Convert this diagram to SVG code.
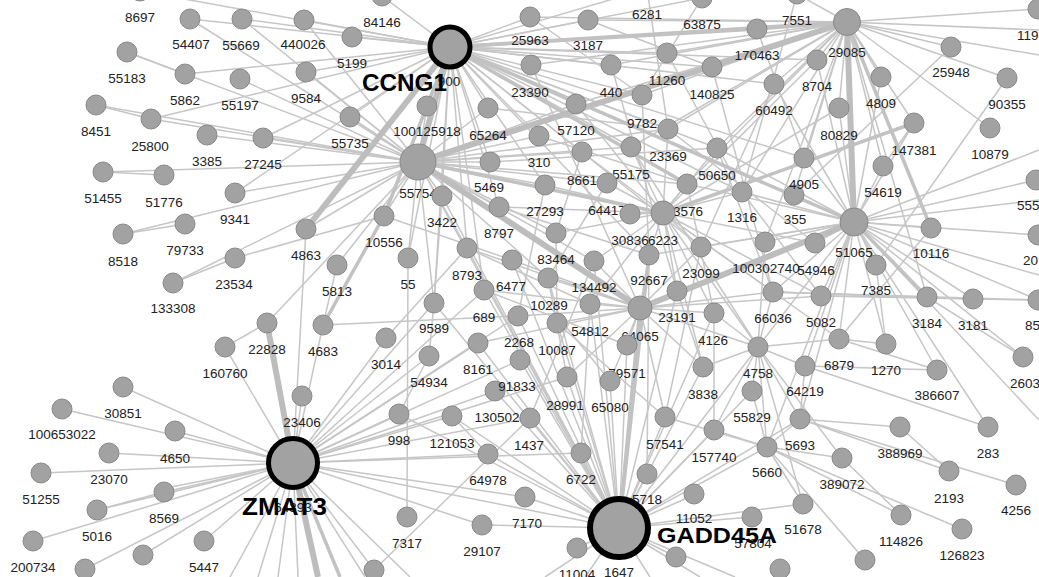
<svg xmlns="http://www.w3.org/2000/svg" width="1039" height="577" viewBox="0 0 1039 577">
<style>
text{font-family:"Liberation Sans",Arial,sans-serif;font-size:13.5px;text-anchor:middle;fill:#222}
.n{fill:#a2a2a2;stroke:#888;stroke-width:1}
.ring{fill:#a2a2a2;stroke:#000}
.hl{font-weight:bold;font-size:23px;text-anchor:start;fill:#000}
#edges-thin line{stroke:#c6c6c6;stroke-width:1.5}
#edges-med line{stroke:#c2c2c2;stroke-width:3.5}
#edges-thick line{stroke:#bdbdbd;stroke-width:6}
</style>
<rect width="1039" height="577" fill="#fff"/>
<g id="connectors">
<g id="edges-thin">
<line x1="418" y1="162" x2="190" y2="19"/><line x1="418" y1="162" x2="242" y2="19"/><line x1="418" y1="162" x2="304" y2="20"/><line x1="418" y1="162" x2="127" y2="52"/><line x1="418" y1="162" x2="240" y2="79"/><line x1="418" y1="162" x2="306" y2="72"/><line x1="418" y1="162" x2="96" y2="105"/><line x1="418" y1="162" x2="151" y2="119"/><line x1="418" y1="162" x2="207" y2="135"/><line x1="418" y1="162" x2="263" y2="138"/><line x1="418" y1="162" x2="103" y2="172"/><line x1="418" y1="162" x2="235" y2="193"/><line x1="418" y1="162" x2="123" y2="234"/><line x1="418" y1="162" x2="173" y2="283"/><line x1="418" y1="162" x2="350" y2="117"/><line x1="418" y1="162" x2="442" y2="196"/><line x1="418" y1="162" x2="499" y2="207"/><line x1="418" y1="162" x2="490" y2="162"/><line x1="418" y1="162" x2="488" y2="108"/><line x1="418" y1="162" x2="427" y2="106"/><line x1="418" y1="162" x2="539" y2="136"/><line x1="418" y1="162" x2="545" y2="185"/><line x1="418" y1="162" x2="582" y2="152"/><line x1="418" y1="162" x2="607" y2="183"/><line x1="418" y1="162" x2="631" y2="147"/><line x1="418" y1="162" x2="384" y2="216"/><line x1="418" y1="162" x2="408" y2="258"/><line x1="418" y1="162" x2="467" y2="248"/><line x1="418" y1="162" x2="434" y2="303"/><line x1="418" y1="162" x2="267" y2="323"/><line x1="418" y1="162" x2="306" y2="229"/><line x1="418" y1="162" x2="556" y2="233"/><line x1="418" y1="162" x2="594" y2="261"/><line x1="418" y1="162" x2="548" y2="278"/><line x1="418" y1="162" x2="668" y2="129"/><line x1="418" y1="162" x2="576" y2="104"/><line x1="418" y1="162" x2="687" y2="184"/><line x1="418" y1="162" x2="619" y2="528"/><line x1="418" y1="162" x2="337" y2="265"/>
<line x1="127" y1="52" x2="185" y2="74"/><line x1="96" y1="105" x2="151" y2="119"/><line x1="103" y1="172" x2="164" y2="175"/><line x1="123" y1="234" x2="185" y2="224"/><line x1="173" y1="283" x2="235" y2="258"/><line x1="225" y1="347" x2="267" y2="323"/><line x1="235" y1="258" x2="384" y2="216"/>
<line x1="450" y1="47" x2="140" y2="-9"/><line x1="450" y1="47" x2="382" y2="-4"/><line x1="450" y1="47" x2="352" y2="37"/><line x1="450" y1="47" x2="304" y2="20"/><line x1="450" y1="47" x2="306" y2="72"/><line x1="450" y1="47" x2="350" y2="117"/><line x1="450" y1="47" x2="190" y2="19"/><line x1="450" y1="47" x2="242" y2="19"/><line x1="450" y1="47" x2="263" y2="138"/><line x1="450" y1="47" x2="151" y2="119"/><line x1="450" y1="47" x2="235" y2="193"/><line x1="450" y1="47" x2="185" y2="74"/><line x1="450" y1="47" x2="530" y2="17"/><line x1="450" y1="47" x2="588" y2="20"/><line x1="450" y1="47" x2="611" y2="65"/><line x1="450" y1="47" x2="576" y2="104"/><line x1="450" y1="47" x2="667" y2="53"/><line x1="450" y1="47" x2="642" y2="95"/><line x1="450" y1="47" x2="488" y2="108"/><line x1="450" y1="47" x2="427" y2="106"/><line x1="450" y1="47" x2="490" y2="162"/><line x1="450" y1="47" x2="539" y2="136"/><line x1="450" y1="47" x2="668" y2="129"/><line x1="450" y1="47" x2="631" y2="147"/><line x1="450" y1="47" x2="647" y2="-11"/><line x1="450" y1="47" x2="702" y2="-2"/><line x1="450" y1="47" x2="442" y2="196"/><line x1="450" y1="47" x2="499" y2="207"/><line x1="450" y1="47" x2="467" y2="248"/><line x1="450" y1="47" x2="408" y2="258"/><line x1="450" y1="47" x2="434" y2="303"/><line x1="450" y1="47" x2="484" y2="290"/><line x1="450" y1="47" x2="545" y2="185"/><line x1="450" y1="47" x2="582" y2="152"/><line x1="450" y1="47" x2="717" y2="148"/><line x1="450" y1="47" x2="649" y2="255"/><line x1="450" y1="47" x2="701" y2="247"/><line x1="450" y1="47" x2="712" y2="67"/><line x1="450" y1="47" x2="774" y2="84"/><line x1="450" y1="47" x2="804" y2="158"/><line x1="450" y1="47" x2="742" y2="192"/><line x1="450" y1="47" x2="817" y2="60"/>
<line x1="293" y1="463" x2="123" y2="387"/><line x1="293" y1="463" x2="62" y2="409"/><line x1="293" y1="463" x2="175" y2="431"/><line x1="293" y1="463" x2="109" y2="453"/><line x1="293" y1="463" x2="41" y2="473"/><line x1="293" y1="463" x2="164" y2="492"/><line x1="293" y1="463" x2="166" y2="488"/><line x1="293" y1="463" x2="97" y2="510"/><line x1="293" y1="463" x2="33" y2="541"/><line x1="293" y1="463" x2="204" y2="541"/><line x1="293" y1="463" x2="143" y2="555"/><line x1="293" y1="463" x2="85" y2="569"/><line x1="293" y1="463" x2="225" y2="347"/><line x1="293" y1="463" x2="302" y2="396"/><line x1="293" y1="463" x2="399" y2="414"/><line x1="293" y1="463" x2="452" y2="416"/><line x1="293" y1="463" x2="495" y2="391"/><line x1="293" y1="463" x2="488" y2="454"/><line x1="293" y1="463" x2="482" y2="525"/><line x1="293" y1="463" x2="530" y2="418"/><line x1="293" y1="463" x2="525" y2="497"/><line x1="293" y1="463" x2="434" y2="303"/><line x1="293" y1="463" x2="386" y2="338"/><line x1="293" y1="463" x2="429" y2="356"/><line x1="293" y1="463" x2="306" y2="229"/><line x1="293" y1="463" x2="323" y2="325"/><line x1="293" y1="463" x2="478" y2="343"/><line x1="293" y1="463" x2="567" y2="377"/><line x1="293" y1="463" x2="518" y2="316"/><line x1="293" y1="463" x2="619" y2="528"/><line x1="293" y1="463" x2="374" y2="570"/><line x1="293" y1="463" x2="484" y2="290"/><line x1="293" y1="463" x2="230" y2="577"/><line x1="293" y1="463" x2="258" y2="577"/><line x1="293" y1="463" x2="278" y2="577"/><line x1="293" y1="463" x2="298" y2="577"/><line x1="293" y1="463" x2="365" y2="577"/><line x1="293" y1="463" x2="410" y2="577"/><line x1="293" y1="463" x2="520" y2="360"/><line x1="293" y1="463" x2="581" y2="453"/><line x1="97" y1="510" x2="164" y2="492"/>
<line x1="619" y1="528" x2="581" y2="453"/><line x1="619" y1="528" x2="647" y2="474"/><line x1="619" y1="528" x2="665" y2="417"/><line x1="619" y1="528" x2="714" y2="430"/><line x1="619" y1="528" x2="694" y2="495"/><line x1="619" y1="528" x2="530" y2="418"/><line x1="619" y1="528" x2="525" y2="497"/><line x1="619" y1="528" x2="488" y2="454"/><line x1="619" y1="528" x2="567" y2="377"/><line x1="619" y1="528" x2="610" y2="381"/><line x1="619" y1="528" x2="627" y2="345"/><line x1="619" y1="528" x2="442" y2="196"/><line x1="619" y1="528" x2="467" y2="248"/><line x1="619" y1="528" x2="518" y2="316"/><line x1="619" y1="528" x2="557" y2="323"/><line x1="619" y1="528" x2="590" y2="304"/><line x1="619" y1="528" x2="495" y2="391"/><line x1="619" y1="528" x2="520" y2="360"/><line x1="619" y1="528" x2="767" y2="447"/><line x1="619" y1="528" x2="752" y2="517"/><line x1="619" y1="528" x2="577" y2="548"/><line x1="619" y1="528" x2="758" y2="347"/><line x1="619" y1="528" x2="800" y2="419"/><line x1="619" y1="528" x2="703" y2="367"/><line x1="619" y1="528" x2="752" y2="391"/><line x1="619" y1="528" x2="452" y2="416"/><line x1="619" y1="528" x2="512" y2="260"/><line x1="619" y1="528" x2="484" y2="290"/><line x1="619" y1="528" x2="548" y2="278"/><line x1="619" y1="528" x2="594" y2="261"/><line x1="619" y1="528" x2="676" y2="557"/><line x1="619" y1="528" x2="399" y2="414"/><line x1="619" y1="528" x2="478" y2="343"/><line x1="619" y1="528" x2="434" y2="303"/><line x1="619" y1="528" x2="714" y2="313"/><line x1="619" y1="528" x2="677" y2="291"/><line x1="619" y1="528" x2="545" y2="577"/><line x1="619" y1="528" x2="585" y2="577"/><line x1="619" y1="528" x2="650" y2="577"/><line x1="619" y1="528" x2="700" y2="577"/><line x1="619" y1="528" x2="735" y2="577"/><line x1="619" y1="528" x2="803" y2="504"/><line x1="619" y1="528" x2="482" y2="525"/>
<line x1="847" y1="22" x2="797" y2="-6"/><line x1="847" y1="22" x2="817" y2="60"/><line x1="847" y1="22" x2="774" y2="84"/><line x1="847" y1="22" x2="839" y2="108"/><line x1="847" y1="22" x2="881" y2="77"/><line x1="847" y1="22" x2="951" y2="47"/><line x1="847" y1="22" x2="1007" y2="78"/><line x1="847" y1="22" x2="990" y2="128"/><line x1="847" y1="22" x2="804" y2="158"/><line x1="847" y1="22" x2="883" y2="166"/><line x1="847" y1="22" x2="794" y2="195"/><line x1="847" y1="22" x2="668" y2="129"/><line x1="847" y1="22" x2="642" y2="95"/><line x1="847" y1="22" x2="742" y2="192"/><line x1="847" y1="22" x2="1038" y2="9"/><line x1="847" y1="22" x2="1039" y2="30"/><line x1="847" y1="22" x2="1039" y2="55"/><line x1="847" y1="22" x2="717" y2="148"/><line x1="847" y1="22" x2="765" y2="242"/><line x1="847" y1="22" x2="531" y2="65"/><line x1="847" y1="22" x2="530" y2="17"/><line x1="847" y1="22" x2="588" y2="20"/><line x1="847" y1="22" x2="667" y2="53"/><line x1="847" y1="22" x2="631" y2="147"/><line x1="847" y1="22" x2="687" y2="184"/><line x1="847" y1="22" x2="914" y2="123"/><line x1="847" y1="22" x2="927" y2="297"/><line x1="847" y1="22" x2="576" y2="104"/><line x1="847" y1="22" x2="611" y2="65"/>
<line x1="854" y1="222" x2="883" y2="166"/><line x1="854" y1="222" x2="876" y2="265"/><line x1="854" y1="222" x2="973" y2="299"/><line x1="854" y1="222" x2="1038" y2="300"/><line x1="854" y1="222" x2="1036" y2="180"/><line x1="854" y1="222" x2="1038" y2="235"/><line x1="854" y1="222" x2="1023" y2="357"/><line x1="854" y1="222" x2="886" y2="344"/><line x1="854" y1="222" x2="839" y2="339"/><line x1="854" y1="222" x2="821" y2="296"/><line x1="854" y1="222" x2="815" y2="243"/><line x1="854" y1="222" x2="765" y2="242"/><line x1="854" y1="222" x2="794" y2="195"/><line x1="854" y1="222" x2="804" y2="158"/><line x1="854" y1="222" x2="937" y2="370"/><line x1="854" y1="222" x2="800" y2="419"/><line x1="854" y1="222" x2="881" y2="77"/><line x1="854" y1="222" x2="839" y2="108"/><line x1="854" y1="222" x2="817" y2="60"/><line x1="854" y1="222" x2="701" y2="247"/><line x1="854" y1="222" x2="687" y2="184"/><line x1="854" y1="222" x2="717" y2="148"/><line x1="854" y1="222" x2="742" y2="192"/><line x1="854" y1="222" x2="773" y2="292"/><line x1="854" y1="222" x2="758" y2="347"/><line x1="854" y1="222" x2="931" y2="228"/><line x1="854" y1="222" x2="677" y2="291"/><line x1="854" y1="222" x2="649" y2="255"/><line x1="854" y1="222" x2="805" y2="366"/><line x1="854" y1="222" x2="767" y2="447"/><line x1="854" y1="222" x2="1039" y2="150"/><line x1="854" y1="222" x2="1039" y2="200"/><line x1="854" y1="222" x2="1039" y2="275"/><line x1="854" y1="222" x2="1039" y2="420"/><line x1="854" y1="222" x2="914" y2="123"/><line x1="854" y1="222" x2="774" y2="84"/><line x1="854" y1="222" x2="988" y2="427"/>
<line x1="663" y1="213" x2="687" y2="184"/><line x1="663" y1="213" x2="607" y2="183"/><line x1="663" y1="213" x2="649" y2="255"/><line x1="663" y1="213" x2="701" y2="247"/><line x1="663" y1="213" x2="742" y2="192"/><line x1="663" y1="213" x2="677" y2="291"/><line x1="663" y1="213" x2="582" y2="152"/><line x1="663" y1="213" x2="631" y2="147"/><line x1="663" y1="213" x2="545" y2="185"/><line x1="663" y1="213" x2="556" y2="233"/><line x1="663" y1="213" x2="594" y2="261"/><line x1="663" y1="213" x2="590" y2="304"/><line x1="663" y1="213" x2="714" y2="313"/><line x1="663" y1="213" x2="773" y2="292"/><line x1="663" y1="213" x2="758" y2="347"/><line x1="663" y1="213" x2="821" y2="296"/><line x1="663" y1="213" x2="839" y2="339"/><line x1="663" y1="213" x2="815" y2="243"/><line x1="663" y1="213" x2="668" y2="129"/><line x1="663" y1="213" x2="717" y2="148"/><line x1="663" y1="213" x2="703" y2="367"/><line x1="663" y1="213" x2="630" y2="214"/>
<line x1="640" y1="308" x2="649" y2="255"/><line x1="640" y1="308" x2="677" y2="291"/><line x1="640" y1="308" x2="590" y2="304"/><line x1="640" y1="308" x2="557" y2="323"/><line x1="640" y1="308" x2="627" y2="345"/><line x1="640" y1="308" x2="610" y2="381"/><line x1="640" y1="308" x2="714" y2="313"/><line x1="640" y1="308" x2="701" y2="247"/><line x1="640" y1="308" x2="594" y2="261"/><line x1="640" y1="308" x2="548" y2="278"/><line x1="640" y1="308" x2="518" y2="316"/><line x1="640" y1="308" x2="484" y2="290"/><line x1="640" y1="308" x2="478" y2="343"/><line x1="640" y1="308" x2="567" y2="377"/><line x1="640" y1="308" x2="703" y2="367"/><line x1="640" y1="308" x2="665" y2="417"/><line x1="640" y1="308" x2="758" y2="347"/><line x1="640" y1="308" x2="773" y2="292"/><line x1="640" y1="308" x2="821" y2="296"/><line x1="640" y1="308" x2="512" y2="260"/><line x1="640" y1="308" x2="467" y2="248"/>
<line x1="758" y1="347" x2="800" y2="419"/><line x1="758" y1="347" x2="767" y2="447"/><line x1="758" y1="347" x2="714" y2="430"/><line x1="758" y1="347" x2="703" y2="367"/><line x1="758" y1="347" x2="805" y2="366"/><line x1="758" y1="347" x2="752" y2="391"/><line x1="758" y1="347" x2="842" y2="458"/><line x1="758" y1="347" x2="803" y2="504"/><line x1="758" y1="347" x2="773" y2="292"/><line x1="758" y1="347" x2="714" y2="313"/><line x1="758" y1="347" x2="839" y2="339"/>
<line x1="767" y1="447" x2="752" y2="391"/><line x1="767" y1="447" x2="800" y2="419"/><line x1="767" y1="447" x2="842" y2="458"/><line x1="767" y1="447" x2="901" y2="515"/><line x1="767" y1="447" x2="803" y2="504"/><line x1="767" y1="447" x2="865" y2="560"/><line x1="767" y1="447" x2="962" y2="529"/><line x1="767" y1="447" x2="714" y2="430"/><line x1="767" y1="447" x2="665" y2="417"/>
<line x1="800" y1="419" x2="805" y2="366"/><line x1="800" y1="419" x2="900" y2="427"/><line x1="800" y1="419" x2="949" y2="471"/><line x1="800" y1="419" x2="1016" y2="485"/><line x1="805" y1="366" x2="988" y2="427"/><line x1="805" y1="366" x2="937" y2="370"/><line x1="839" y1="339" x2="886" y2="344"/><line x1="839" y1="339" x2="937" y2="370"/><line x1="821" y1="296" x2="927" y2="297"/><line x1="821" y1="296" x2="973" y2="299"/><line x1="773" y1="292" x2="927" y2="297"/><line x1="773" y1="292" x2="973" y2="299"/><line x1="773" y1="292" x2="1038" y2="300"/><line x1="876" y1="265" x2="886" y2="344"/><line x1="931" y1="228" x2="839" y2="339"/><line x1="927" y1="297" x2="1023" y2="357"/><line x1="973" y1="299" x2="1038" y2="300"/><line x1="842" y1="458" x2="901" y2="515"/><line x1="900" y1="427" x2="949" y2="471"/><line x1="1007" y1="78" x2="876" y2="265"/><line x1="914" y1="123" x2="883" y2="166"/><line x1="951" y1="47" x2="794" y2="195"/>
<line x1="323" y1="325" x2="518" y2="316"/><line x1="337" y1="265" x2="323" y2="325"/><line x1="408" y1="258" x2="407" y2="517"/><line x1="442" y1="196" x2="434" y2="303"/><line x1="434" y1="303" x2="429" y2="356"/><line x1="429" y1="356" x2="399" y2="414"/><line x1="386" y1="338" x2="467" y2="248"/><line x1="384" y1="216" x2="512" y2="260"/><line x1="374" y1="570" x2="530" y2="418"/><line x1="452" y1="416" x2="488" y2="454"/>
<line x1="499" y1="207" x2="649" y2="255"/><line x1="499" y1="207" x2="663" y2="213"/><line x1="490" y1="162" x2="717" y2="148"/><line x1="539" y1="136" x2="687" y2="184"/><line x1="488" y1="108" x2="668" y2="129"/><line x1="576" y1="104" x2="663" y2="213"/><line x1="642" y1="95" x2="649" y2="255"/><line x1="611" y1="65" x2="677" y2="291"/><line x1="531" y1="65" x2="640" y2="308"/><line x1="530" y1="17" x2="642" y2="95"/><line x1="588" y1="20" x2="712" y2="67"/><line x1="667" y1="53" x2="742" y2="192"/><line x1="757" y1="29" x2="804" y2="158"/><line x1="712" y1="67" x2="773" y2="292"/><line x1="774" y1="84" x2="701" y2="247"/><line x1="817" y1="60" x2="663" y2="213"/><line x1="839" y1="108" x2="663" y2="213"/><line x1="647" y1="-11" x2="668" y2="129"/><line x1="702" y1="-2" x2="642" y2="95"/><line x1="797" y1="-6" x2="742" y2="192"/><line x1="545" y1="185" x2="518" y2="316"/><line x1="556" y1="233" x2="557" y2="323"/><line x1="512" y1="260" x2="610" y2="381"/><line x1="484" y1="290" x2="627" y2="345"/><line x1="467" y1="248" x2="590" y2="304"/><line x1="548" y1="278" x2="567" y2="377"/><line x1="594" y1="261" x2="530" y2="418"/><line x1="590" y1="304" x2="581" y2="453"/><line x1="557" y1="323" x2="665" y2="417"/><line x1="649" y1="255" x2="647" y2="474"/><line x1="701" y1="247" x2="665" y2="417"/><line x1="714" y1="313" x2="714" y2="430"/><line x1="677" y1="291" x2="703" y2="367"/><line x1="765" y1="242" x2="758" y2="347"/><line x1="742" y1="192" x2="821" y2="296"/><line x1="687" y1="184" x2="714" y2="313"/><line x1="631" y1="147" x2="758" y2="347"/><line x1="717" y1="148" x2="773" y2="292"/><line x1="668" y1="129" x2="815" y2="243"/><line x1="607" y1="183" x2="548" y2="278"/><line x1="582" y1="152" x2="556" y2="233"/>
</g>
<g id="edges-med">
<line x1="450" y1="47" x2="384" y2="216"/><line x1="450" y1="47" x2="854" y2="222"/><line x1="450" y1="47" x2="757" y2="29"/><line x1="450" y1="47" x2="687" y2="184"/><line x1="450" y1="47" x2="847" y2="22"/><line x1="663" y1="213" x2="914" y2="123"/><line x1="847" y1="22" x2="931" y2="228"/><line x1="854" y1="222" x2="927" y2="297"/><line x1="619" y1="528" x2="640" y2="308"/><line x1="619" y1="528" x2="649" y2="255"/><line x1="293" y1="463" x2="340" y2="577"/><line x1="323" y1="325" x2="384" y2="216"/><line x1="418" y1="162" x2="663" y2="213"/><line x1="847" y1="22" x2="757" y2="29"/>
</g>
<g id="edges-thick">
<line x1="450" y1="47" x2="418" y2="162"/><line x1="418" y1="162" x2="847" y2="22"/><line x1="640" y1="308" x2="854" y2="222"/><line x1="847" y1="22" x2="854" y2="222"/><line x1="293" y1="463" x2="267" y2="323"/><line x1="293" y1="463" x2="318" y2="577"/><line x1="418" y1="162" x2="640" y2="308"/><line x1="450" y1="47" x2="306" y2="229"/>
</g>
</g>
<g id="nodes">
<g id="n8697"><circle class="n" cx="140" cy="-9" r="10"/><text x="140" y="22">8697</text></g>
<g id="n54407"><circle class="n" cx="190" cy="19" r="10"/><text x="191" y="49">54407</text></g>
<g id="n55669"><circle class="n" cx="242" cy="19" r="10"/><text x="241" y="50">55669</text></g>
<g id="n440026"><circle class="n" cx="304" cy="20" r="10"/><text x="303" y="49">440026</text></g>
<g id="n84146"><circle class="n" cx="382" cy="-4" r="10"/><text x="382" y="27">84146</text></g>
<g id="n5199"><circle class="n" cx="352" cy="37" r="10"/><text x="352" y="68">5199</text></g>
<g id="n55183"><circle class="n" cx="127" cy="52" r="10"/><text x="127" y="83">55183</text></g>
<g id="n5862"><circle class="n" cx="185" cy="74" r="10"/><text x="185" y="105">5862</text></g>
<g id="n55197"><circle class="n" cx="240" cy="79" r="10"/><text x="240" y="110">55197</text></g>
<g id="n9584"><circle class="n" cx="306" cy="72" r="10"/><text x="306" y="103">9584</text></g>
<g id="n8451"><circle class="n" cx="96" cy="105" r="10"/><text x="96" y="136">8451</text></g>
<g id="n25800"><circle class="n" cx="151" cy="119" r="10"/><text x="150" y="151">25800</text></g>
<g id="n3385"><circle class="n" cx="207" cy="135" r="10"/><text x="207" y="166">3385</text></g>
<g id="n27245"><circle class="n" cx="263" cy="138" r="10"/><text x="263" y="169">27245</text></g>
<g id="n55735"><circle class="n" cx="350" cy="117" r="10"/><text x="350" y="148">55735</text></g>
<g id="n51455"><circle class="n" cx="103" cy="172" r="10"/><text x="103" y="203">51455</text></g>
<g id="n51776"><circle class="n" cx="164" cy="175" r="10"/><text x="164" y="207">51776</text></g>
<g id="n9341"><circle class="n" cx="235" cy="193" r="10"/><text x="235" y="224">9341</text></g>
<g id="n8518"><circle class="n" cx="123" cy="234" r="10"/><text x="123" y="266">8518</text></g>
<g id="n79733"><circle class="n" cx="185" cy="224" r="10"/><text x="185" y="255">79733</text></g>
<g id="n23534"><circle class="n" cx="235" cy="258" r="10"/><text x="234" y="289">23534</text></g>
<g id="n133308"><circle class="n" cx="173" cy="283" r="10"/><text x="173" y="313">133308</text></g>
<g id="n160760"><circle class="n" cx="225" cy="347" r="10"/><text x="225" y="378">160760</text></g>
<g id="n22828"><circle class="n" cx="267" cy="323" r="10"/><text x="267" y="354">22828</text></g>
<g id="n4863"><circle class="n" cx="306" cy="229" r="10"/><text x="306" y="260">4863</text></g>
<g id="n5813"><circle class="n" cx="337" cy="265" r="10"/><text x="337" y="296">5813</text></g>
<g id="n4683"><circle class="n" cx="323" cy="325" r="10"/><text x="323" y="356">4683</text></g>
<g id="n10556"><circle class="n" cx="384" cy="216" r="10"/><text x="384" y="247">10556</text></g>
<g id="n55"><circle class="n" cx="408" cy="258" r="10"/><text x="408" y="289">55</text></g>
<g id="n55754"><circle class="n" cx="418" cy="162" r="18"/><text x="418" y="198">55754</text></g>
<g id="n3422"><circle class="n" cx="442" cy="196" r="10"/><text x="442" y="227">3422</text></g>
<g id="n3014"><circle class="n" cx="386" cy="338" r="10"/><text x="386" y="369">3014</text></g>
<g id="n9589"><circle class="n" cx="434" cy="303" r="10"/><text x="434" y="333">9589</text></g>
<g id="n54934"><circle class="n" cx="429" cy="356" r="10"/><text x="429" y="387">54934</text></g>
<g id="n23406"><circle class="n" cx="302" cy="396" r="10"/><text x="302" y="427">23406</text></g>
<g id="n998"><circle class="n" cx="399" cy="414" r="10"/><text x="399" y="445">998</text></g>
<g id="n121053"><circle class="n" cx="452" cy="416" r="10"/><text x="452" y="448">121053</text></g>
<g id="n130502"><circle class="n" cx="495" cy="391" r="10"/><text x="497" y="422">130502</text></g>
<g id="n64978"><circle class="n" cx="488" cy="454" r="10"/><text x="488" y="485">64978</text></g>
<g id="n7317"><circle class="n" cx="407" cy="517" r="10"/><text x="407" y="548">7317</text></g>
<g id="n29107"><circle class="n" cx="482" cy="525" r="10"/><text x="482" y="556">29107</text></g>
<g id="nU1"><circle class="n" cx="374" cy="570" r="10"/></g>
<g id="n30851"><circle class="n" cx="123" cy="387" r="10"/><text x="123" y="418">30851</text></g>
<g id="n100653022"><circle class="n" cx="62" cy="409" r="10"/><text x="62" y="439">100653022</text></g>
<g id="n4650"><circle class="n" cx="175" cy="431" r="10"/><text x="175" y="463">4650</text></g>
<g id="n23070"><circle class="n" cx="109" cy="453" r="10"/><text x="109" y="484">23070</text></g>
<g id="n51255"><circle class="n" cx="41" cy="473" r="10"/><text x="41" y="504">51255</text></g>
<g id="n8569"><circle class="n" cx="164" cy="492" r="10"/><text x="164" y="523">8569</text></g>
<g id="n5016"><circle class="n" cx="97" cy="510" r="10"/><text x="97" y="541">5016</text></g>
<g id="n200734"><circle class="n" cx="33" cy="541" r="10"/><text x="33" y="572">200734</text></g>
<g id="n5447"><circle class="n" cx="204" cy="541" r="10"/><text x="204" y="572">5447</text></g>
<g id="nU2"><circle class="n" cx="143" cy="555" r="10"/></g>
<g id="nU3"><circle class="n" cx="85" cy="569" r="10"/></g>
<g id="n100125918"><circle class="n" cx="427" cy="106" r="10"/><text x="427" y="136">100125918</text></g>
<g id="n65264"><circle class="n" cx="488" cy="108" r="10"/><text x="488" y="140">65264</text></g>
<g id="n5469"><circle class="n" cx="490" cy="162" r="10"/><text x="489" y="192">5469</text></g>
<g id="n8797"><circle class="n" cx="499" cy="207" r="10"/><text x="499" y="238">8797</text></g>
<g id="n8793"><circle class="n" cx="467" cy="248" r="10"/><text x="467" y="280">8793</text></g>
<g id="n6477"><circle class="n" cx="512" cy="260" r="10"/><text x="511" y="291">6477</text></g>
<g id="n689"><circle class="n" cx="484" cy="290" r="10"/><text x="484" y="322">689</text></g>
<g id="n8161"><circle class="n" cx="478" cy="343" r="10"/><text x="478" y="374">8161</text></g>
<g id="n2268"><circle class="n" cx="518" cy="316" r="10"/><text x="519" y="347">2268</text></g>
<g id="n91833"><circle class="n" cx="520" cy="360" r="10"/><text x="517" y="391">91833</text></g>
<g id="n25963"><circle class="n" cx="530" cy="17" r="10"/><text x="530" y="45">25963</text></g>
<g id="n3187"><circle class="n" cx="588" cy="20" r="10"/><text x="588" y="50">3187</text></g>
<g id="n6281"><circle class="n" cx="647" cy="-11" r="10"/><text x="647" y="19">6281</text></g>
<g id="n63875"><circle class="n" cx="702" cy="-2" r="10"/><text x="702" y="29">63875</text></g>
<g id="n11260"><circle class="n" cx="667" cy="53" r="10"/><text x="667" y="85">11260</text></g>
<g id="n170463"><circle class="n" cx="757" cy="29" r="10"/><text x="757" y="60">170463</text></g>
<g id="n140825"><circle class="n" cx="712" cy="67" r="10"/><text x="712" y="99">140825</text></g>
<g id="n23390"><circle class="n" cx="531" cy="65" r="10"/><text x="530" y="97">23390</text></g>
<g id="n440"><circle class="n" cx="611" cy="65" r="10"/><text x="611" y="97">440</text></g>
<g id="n9782"><circle class="n" cx="642" cy="95" r="10"/><text x="642" y="128">9782</text></g>
<g id="n57120"><circle class="n" cx="576" cy="104" r="10"/><text x="576" y="135">57120</text></g>
<g id="n23369"><circle class="n" cx="668" cy="129" r="10"/><text x="668" y="161">23369</text></g>
<g id="n310"><circle class="n" cx="539" cy="136" r="10"/><text x="539" y="167">310</text></g>
<g id="n8661"><circle class="n" cx="582" cy="152" r="10"/><text x="582" y="185">8661</text></g>
<g id="n55175"><circle class="n" cx="631" cy="147" r="10"/><text x="631" y="179">55175</text></g>
<g id="n50650"><circle class="n" cx="717" cy="148" r="10"/><text x="717" y="180">50650</text></g>
<g id="n27293"><circle class="n" cx="545" cy="185" r="10"/><text x="545" y="216">27293</text></g>
<g id="n64417"><circle class="n" cx="607" cy="183" r="10"/><text x="607" y="215">64417</text></g>
<g id="n3576"><circle class="n" cx="687" cy="184" r="10"/><text x="688" y="216">3576</text></g>
<g id="n1316"><circle class="n" cx="742" cy="192" r="10"/><text x="742" y="222">1316</text></g>
<g id="n30836"><circle class="n" cx="630" cy="214" r="10"/><text x="630" y="245">30836</text></g>
<g id="n6223"><circle class="n" cx="663" cy="213" r="12"/><text x="663" y="245">6223</text></g>
<g id="n83464"><circle class="n" cx="556" cy="233" r="10"/><text x="556" y="264">83464</text></g>
<g id="n10289"><circle class="n" cx="548" cy="278" r="10"/><text x="549" y="310">10289</text></g>
<g id="n134492"><circle class="n" cx="594" cy="261" r="10"/><text x="594" y="292">134492</text></g>
<g id="n92667"><circle class="n" cx="649" cy="255" r="10"/><text x="649" y="285">92667</text></g>
<g id="n23099"><circle class="n" cx="701" cy="247" r="10"/><text x="701" y="278">23099</text></g>
<g id="n54812"><circle class="n" cx="590" cy="304" r="10"/><text x="590" y="336">54812</text></g>
<g id="n10087"><circle class="n" cx="557" cy="323" r="10"/><text x="557" y="355">10087</text></g>
<g id="n64065"><circle class="n" cx="640" cy="308" r="12"/><text x="640" y="341">64065</text></g>
<g id="n23191"><circle class="n" cx="677" cy="291" r="10"/><text x="677" y="322">23191</text></g>
<g id="n4126"><circle class="n" cx="714" cy="313" r="10"/><text x="713" y="345">4126</text></g>
<g id="n79571"><circle class="n" cx="627" cy="345" r="10"/><text x="627" y="378">79571</text></g>
<g id="n28991"><circle class="n" cx="567" cy="377" r="10"/><text x="565" y="410">28991</text></g>
<g id="n65080"><circle class="n" cx="610" cy="381" r="10"/><text x="610" y="412">65080</text></g>
<g id="n3838"><circle class="n" cx="703" cy="367" r="10"/><text x="703" y="399">3838</text></g>
<g id="n1437"><circle class="n" cx="530" cy="418" r="10"/><text x="529" y="450">1437</text></g>
<g id="n57541"><circle class="n" cx="665" cy="417" r="10"/><text x="665" y="449">57541</text></g>
<g id="n157740"><circle class="n" cx="714" cy="430" r="10"/><text x="714" y="462">157740</text></g>
<g id="n55829"><circle class="n" cx="752" cy="391" r="10"/><text x="752" y="422">55829</text></g>
<g id="n6722"><circle class="n" cx="581" cy="453" r="10"/><text x="581" y="484">6722</text></g>
<g id="n5718"><circle class="n" cx="647" cy="474" r="10"/><text x="647" y="504">5718</text></g>
<g id="n7170"><circle class="n" cx="525" cy="497" r="10"/><text x="527" y="528">7170</text></g>
<g id="n11052"><circle class="n" cx="694" cy="494" r="10"/><text x="694" y="523">11052</text></g>
<g id="n57804"><circle class="n" cx="752" cy="517" r="10"/><text x="753" y="548">57804</text></g>
<g id="n11004"><circle class="n" cx="577" cy="548" r="10"/><text x="577" y="579">11004</text></g>
<g id="nU4"><circle class="n" cx="676" cy="557" r="10"/></g>
<g id="nU5"><circle class="n" cx="780" cy="569" r="10"/></g>
<g id="n4758"><circle class="n" cx="758" cy="347" r="10"/><text x="758" y="378">4758</text></g>
<g id="n66036"><circle class="n" cx="773" cy="292" r="10"/><text x="773" y="323">66036</text></g>
<g id="n100302740"><circle class="n" cx="765" cy="242" r="10"/><text x="766" y="273">100302740</text></g>
<g id="n5660"><circle class="n" cx="767" cy="447" r="10"/><text x="767" y="477">5660</text></g>
<g id="n5693"><circle class="n" cx="800" cy="419" r="10"/><text x="800" y="450">5693</text></g>
<g id="n64219"><circle class="n" cx="805" cy="366" r="10"/><text x="805" y="396">64219</text></g>
<g id="n6879"><circle class="n" cx="839" cy="339" r="10"/><text x="839" y="370">6879</text></g>
<g id="n5082"><circle class="n" cx="821" cy="296" r="10"/><text x="821" y="327">5082</text></g>
<g id="n54946"><circle class="n" cx="815" cy="243" r="10"/><text x="816" y="275">54946</text></g>
<g id="n355"><circle class="n" cx="794" cy="195" r="10"/><text x="795" y="224">355</text></g>
<g id="n4905"><circle class="n" cx="804" cy="158" r="10"/><text x="804" y="189">4905</text></g>
<g id="n60492"><circle class="n" cx="774" cy="84" r="10"/><text x="774" y="115">60492</text></g>
<g id="n7551"><circle class="n" cx="797" cy="-6" r="10"/><text x="797" y="25">7551</text></g>
<g id="n8704"><circle class="n" cx="817" cy="60" r="10"/><text x="817" y="91">8704</text></g>
<g id="n80829"><circle class="n" cx="839" cy="108" r="10"/><text x="839" y="140">80829</text></g>
<g id="n4809"><circle class="n" cx="881" cy="77" r="10"/><text x="881" y="108">4809</text></g>
<g id="n25948"><circle class="n" cx="951" cy="47" r="10"/><text x="951" y="77">25948</text></g>
<g id="n90355"><circle class="n" cx="1007" cy="78" r="10"/><text x="1007" y="109">90355</text></g>
<g id="n119"><circle class="n" cx="1038" cy="9" r="10"/><text x="1017" y="40" style="text-anchor:start">119</text></g>
<g id="n147381"><circle class="n" cx="914" cy="123" r="10"/><text x="914" y="155">147381</text></g>
<g id="n10879"><circle class="n" cx="990" cy="128" r="10"/><text x="990" y="159">10879</text></g>
<g id="n54619"><circle class="n" cx="883" cy="166" r="10"/><text x="883" y="197">54619</text></g>
<g id="n555"><circle class="n" cx="1036" cy="180" r="10"/><text x="1017" y="210" style="text-anchor:start">555</text></g>
<g id="n10116"><circle class="n" cx="931" cy="228" r="10"/><text x="931" y="258">10116</text></g>
<g id="n7385"><circle class="n" cx="876" cy="265" r="10"/><text x="876" y="295">7385</text></g>
<g id="n20"><circle class="n" cx="1038" cy="235" r="10"/><text x="1023" y="265" style="text-anchor:start">20</text></g>
<g id="n3184"><circle class="n" cx="927" cy="297" r="10"/><text x="927" y="328">3184</text></g>
<g id="n3181"><circle class="n" cx="973" cy="299" r="10"/><text x="973" y="330">3181</text></g>
<g id="n85"><circle class="n" cx="1038" cy="300" r="10"/><text x="1025" y="330" style="text-anchor:start">85</text></g>
<g id="n1270"><circle class="n" cx="886" cy="344" r="10"/><text x="886" y="375">1270</text></g>
<g id="n386607"><circle class="n" cx="937" cy="370" r="10"/><text x="937" y="400">386607</text></g>
<g id="n2603"><circle class="n" cx="1023" cy="357" r="10"/><text x="1010" y="388" style="text-anchor:start">2603</text></g>
<g id="n389072"><circle class="n" cx="842" cy="458" r="10"/><text x="842" y="489">389072</text></g>
<g id="n388969"><circle class="n" cx="900" cy="427" r="10"/><text x="900" y="458">388969</text></g>
<g id="n283"><circle class="n" cx="988" cy="427" r="10"/><text x="988" y="458">283</text></g>
<g id="n2193"><circle class="n" cx="949" cy="471" r="10"/><text x="949" y="503">2193</text></g>
<g id="n4256"><circle class="n" cx="1016" cy="485" r="10"/><text x="1016" y="515">4256</text></g>
<g id="n51678"><circle class="n" cx="803" cy="504" r="10"/><text x="803" y="534">51678</text></g>
<g id="n114826"><circle class="n" cx="901" cy="515" r="10"/><text x="901" y="546">114826</text></g>
<g id="n126823"><circle class="n" cx="962" cy="529" r="10"/><text x="962" y="560">126823</text></g>
<g id="nU6"><circle class="n" cx="865" cy="560" r="10"/></g>
<g id="n29085"><circle class="n" cx="847" cy="22" r="13.5"/><text x="847" y="57">29085</text></g>
<g id="n51065"><circle class="n" cx="854" cy="222" r="14"/><text x="854" y="257">51065</text></g>
<g id="nCCNG1"><circle class="ring" cx="450" cy="47" r="20" stroke-width="5"/><text x="449" y="86">900</text><text class="hl" x="362" y="91" textLength="85" lengthAdjust="spacingAndGlyphs">CCNG1</text></g>
<g id="nZMAT3"><circle class="ring" cx="293" cy="463" r="24.5" stroke-width="5"/><text x="293" y="512">64393</text><text class="hl" x="242" y="515" textLength="85" lengthAdjust="spacingAndGlyphs">ZMAT3</text></g>
<g id="nGADD45A"><circle class="ring" cx="619" cy="528" r="29" stroke-width="6"/><text x="619" y="577">1647</text><text class="hl" x="657" y="543" textLength="120" lengthAdjust="spacingAndGlyphs" style="font-size:22px">GADD45A</text></g>
</g>
</svg>
